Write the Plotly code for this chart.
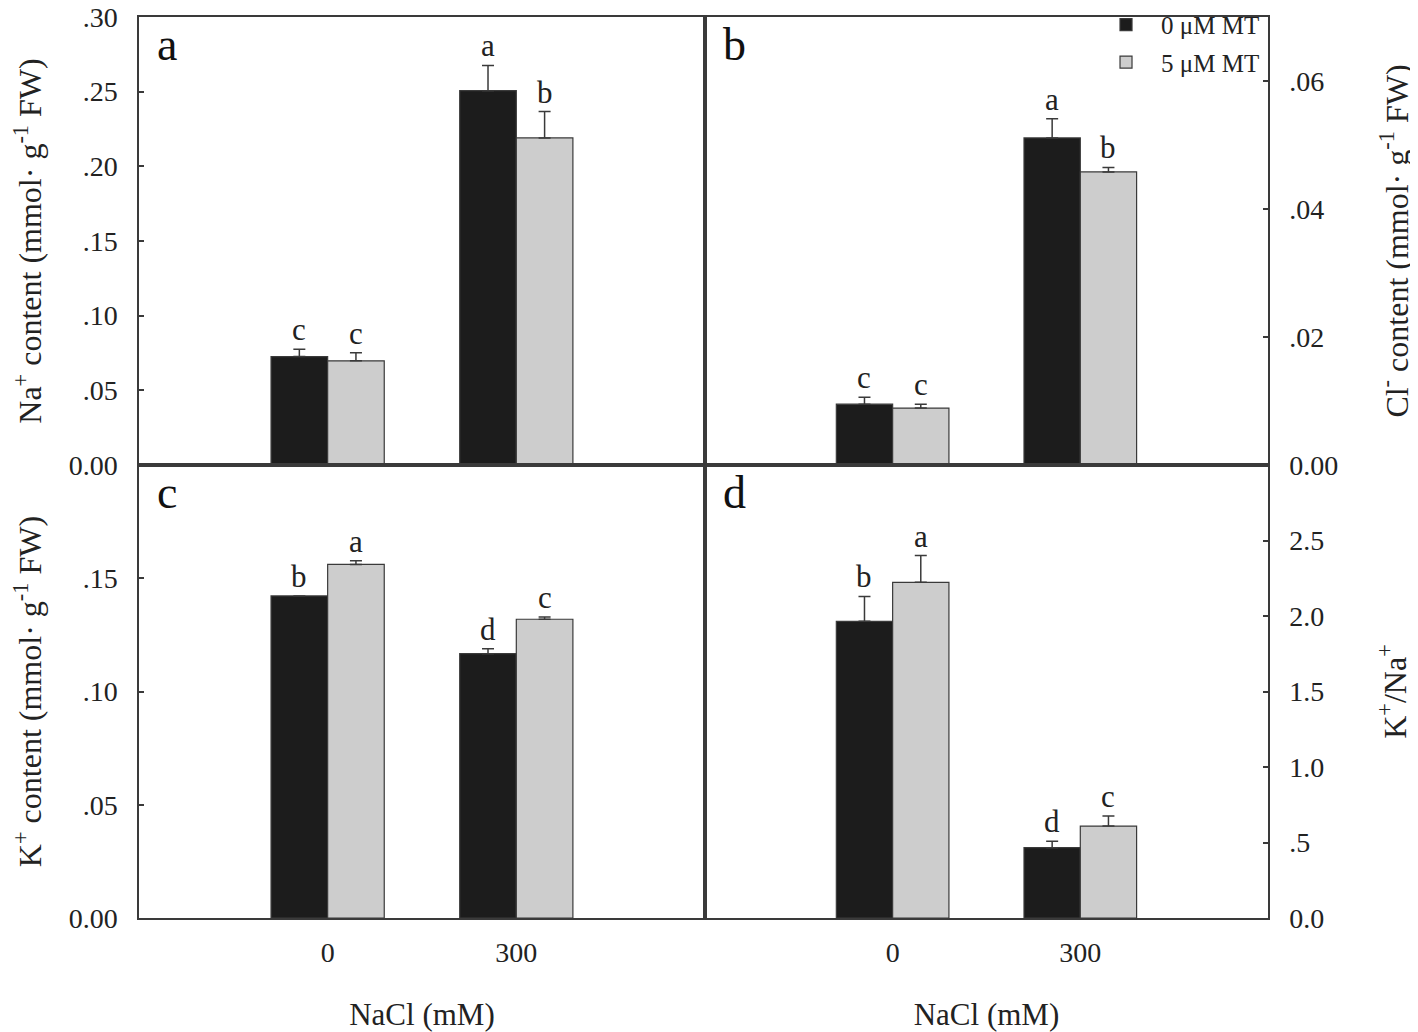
import plotly.graph_objects as go

# ---------------- data ----------------
nacl = ["0", "300"]
series_names = ["0 μM MT", "5 μM MT"]

na_0mt = [0.0726, 0.2507]
na_0mt_err = [0.0049, 0.0169]
na_5mt = [0.0698, 0.2190]
na_5mt_err = [0.0053, 0.0177]
na_let_0mt = ["c", "a"]
na_let_5mt = ["c", "b"]

cl_0mt = [0.0095, 0.0511]
cl_0mt_err = [0.0011, 0.0030]
cl_5mt = [0.0089, 0.0458]
cl_5mt_err = [0.0006, 0.0007]
cl_let_0mt = ["c", "a"]
cl_let_5mt = ["c", "b"]

k_0mt = [0.1422, 0.1167]
k_0mt_err = [0.0, 0.0022]
k_5mt = [0.1561, 0.1319]
k_5mt_err = [0.0016, 0.0010]
k_let_0mt = ["b", "d"]
k_let_5mt = ["a", "c"]

ratio_0mt = [1.965, 0.466]
ratio_0mt_err = [0.165, 0.042]
ratio_5mt = [2.223, 0.609]
ratio_5mt_err = [0.177, 0.066]
ratio_let_0mt = ["b", "d"]
ratio_let_5mt = ["a", "c"]

na_ticks = [0, 0.05, 0.10, 0.15, 0.20, 0.25, 0.30]
na_ticktext = ["0.00", ".05", ".10", ".15", ".20", ".25", ".30"]
cl_ticks = [0, 0.02, 0.04, 0.06]
cl_ticktext = ["0.00", ".02", ".04", ".06"]
k_ticks = [0, 0.05, 0.10, 0.15]
k_ticktext = ["0.00", ".05", ".10", ".15"]
ratio_ticks = [0, 0.5, 1.0, 1.5, 2.0, 2.5]
ratio_ticktext = ["0.0", ".5", "1.0", "1.5", "2.0", "2.5"]

# ---------------- style ----------------
FONT = "Liberation Serif"
BLACK = "#1c1c1c"
GRAY = "#cdcdcd"
LINE = "#3a3a3a"
BARGAP = 0.4
xpos = list(range(len(nacl)))
half = (1 - BARGAP) / 4  # offset of each bar centre from group centre

fig = go.Figure()

panels = [
    ("x", "y", na_0mt, na_0mt_err, na_5mt, na_5mt_err, na_let_0mt, na_let_5mt),
    ("x2", "y2", cl_0mt, cl_0mt_err, cl_5mt, cl_5mt_err, cl_let_0mt, cl_let_5mt),
    ("x3", "y3", k_0mt, k_0mt_err, k_5mt, k_5mt_err, k_let_0mt, k_let_5mt),
    ("x4", "y4", ratio_0mt, ratio_0mt_err, ratio_5mt, ratio_5mt_err, ratio_let_0mt, ratio_let_5mt),
]

annotations = []
for i, (xa, ya, v0, e0, v5, e5, l0, l5) in enumerate(panels):
    for j, (vals, errs, color, name, lets) in enumerate([
        (v0, e0, BLACK, series_names[0], l0),
        (v5, e5, GRAY, series_names[1], l5),
    ]):
        fig.add_trace(go.Bar(
            x=xpos, y=vals, name=name, xaxis=xa, yaxis=ya,
            marker=dict(color=color, line=dict(color=LINE, width=1.2)),
            error_y=dict(type="data", symmetric=False, array=errs,
                         arrayminus=[0] * len(errs), color=LINE,
                         thickness=1.5, width=6),
            offsetgroup=str(j), legendgroup=name,
            showlegend=(i == 1),
        ))
        sign = -1 if j == 0 else 1
        for k, (v, e, t) in enumerate(zip(vals, errs, lets)):
            annotations.append(dict(
                x=xpos[k] + sign * half, y=v + e, xref=xa, yref=ya,
                text=t, showarrow=False, yanchor="bottom", yshift=0,
                font=dict(family=FONT, size=31, color="#222"),
            ))

# panel letters
for lab, xa, ya in [("a", "x", "y"), ("b", "x2", "y2"), ("c", "x3", "y3"), ("d", "x4", "y4")]:
    annotations.append(dict(
        x=0.028, y=1.0, xref=f"{xa} domain", yref=f"{ya} domain",
        text=lab, showarrow=False, xanchor="left", yanchor="top",
        font=dict(family=FONT, size=46, color="#111"),
    ))

# figure is placed at an 8px page offset; domains are expressed in figure space
XL = [0.0929, 0.4943]
XR = [0.4943, 0.8936]
YT = [0.5537, 0.9912]
YB = [0.1113, 0.5537]

axis_common = dict(showline=True, linecolor=LINE, linewidth=1.5, mirror=True,
                   showgrid=False, zeroline=False, automargin=False,
                   ticklabeloverflow="allow")
tickfont = dict(family=FONT, size=28, color="#222")
titlefont = dict(family=FONT, size=31, color="#222")
ytitlefont = dict(family=FONT, size=32, color="#222")

def xaxis(domain, anchor, show_labels):
    d = dict(axis_common, domain=domain, anchor=anchor, range=[-1, 2],
             tickvals=xpos, ticktext=nacl, ticks="",
             showticklabels=show_labels, tickfont=tickfont,
             ticklabelstandoff=9)
    if show_labels:
        d["title"] = dict(text="NaCl (mM)", font=titlefont, standoff=41)
    return d

def yaxis(domain, anchor, rng, tv, tt, title, side, standoff):
    return dict(axis_common, domain=domain, anchor=anchor, range=rng,
                tickvals=tv, ticktext=tt, ticks="inside", ticklen=5,
                tickwidth=1.5, tickcolor=LINE, side=side, tickfont=tickfont,
                ticklabelstandoff=14,
                title=dict(text=title, font=ytitlefont, standoff=standoff))

fig.update_layout(
    width=1410, height=1024,
    margin=dict(l=0, r=0, t=0, b=0, autoexpand=False),
    paper_bgcolor="white", plot_bgcolor="white",
    barmode="group", bargap=BARGAP, bargroupgap=0,
    font=dict(family=FONT, color="#222"),
    xaxis=xaxis(XL, "y", False),
    xaxis2=xaxis(XR, "y2", False),
    xaxis3=xaxis(XL, "y3", True),
    xaxis4=xaxis(XR, "y4", True),
    yaxis=yaxis(YT, "x", [0, 0.30], na_ticks, na_ticktext,
                "Na<sup>+</sup> content (mmol· g<sup>-1</sup> FW)", "left", 31),
    yaxis2=yaxis(YT, "x2", [0, 0.07], cl_ticks, cl_ticktext,
                 "Cl<sup>-</sup> content (mmol· g<sup>-1</sup> FW)", "right", 48),
    yaxis3=yaxis(YB, "x3", [0, 0.20], k_ticks, k_ticktext,
                 "K<sup>+</sup> content (mmol· g<sup>-1</sup> FW)", "left", 31),
    yaxis4=yaxis(YB, "x4", [0, 3.0], ratio_ticks, ratio_ticktext,
                 "K<sup>+</sup>/Na<sup>+</sup>", "right", 60),
    legend=dict(x=0.8915, y=1.006, xanchor="right", yanchor="top",
                font=dict(family=FONT, size=25, color="#222"),
                bgcolor="rgba(0,0,0,0)", tracegroupgap=2, itemwidth=60),
    annotations=annotations,
)

fig.write_html("out.html")
